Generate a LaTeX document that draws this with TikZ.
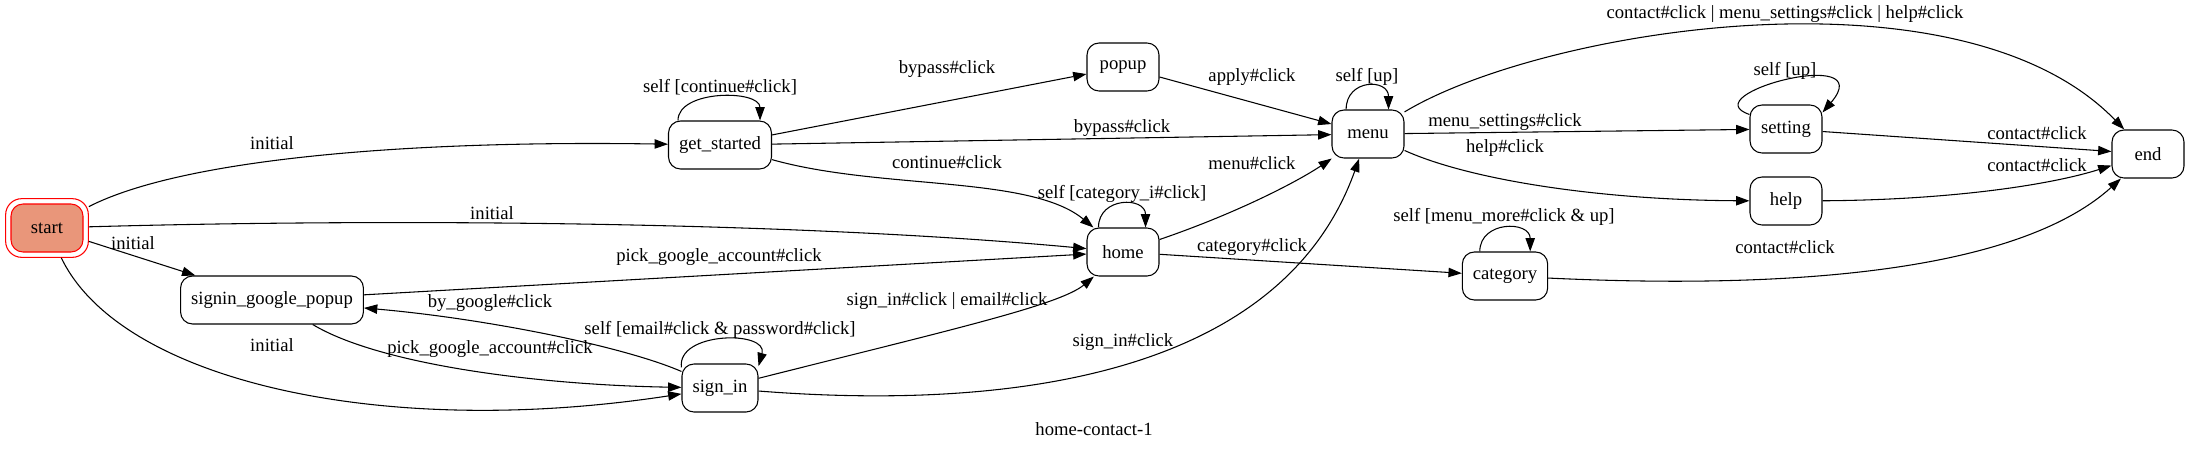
\documentclass[tikz,border=0pt]{standalone}
\usepackage{fontspec}
\setmainfont{Liberation Serif}
\usetikzlibrary{arrows.meta}
\definecolor{salmonfill}{HTML}{E9967A}
\begin{document}
\begin{tikzpicture}[x=0.75pt,y=-0.75pt,
  every node/.style={font=\fontsize{14pt}{16pt}\selectfont},
  st/.style={draw, rounded corners=9pt, minimum height=36pt, minimum width=54pt, inner xsep=7.9pt, inner ysep=0pt, line width=0.8pt},
  tr/.style={draw, line width=0.8pt, -{Triangle[length=10pt,width=7pt]}},
  lab/.style={inner sep=0pt}]
\useasboundingbox (0,0) rectangle (2189,450);

% nodes
\node[st, draw=red, rounded corners=12pt, minimum width=62pt, minimum height=44pt] (start) at (47,228) {};
\node[st, draw=red, fill=salmonfill] (startin) at (start.center) {start};
\node[st] (gs) at (720,145) {get\_started};
\node[st] (popup) at (1123,67) {popup};
\node[st] (menu) at (1368,134) {menu};
\node[st] (home) at (1123,252) {home};
\node[st] (sgp) at (272,300) {signin\_google\_popup};
\node[st] (si) at (720,388) {sign\_in};
\node[st] (cat) at (1505,276) {category};
\node[st] (set) at (1786,129) {setting};
\node[st] (help) at (1786,201) {help};
\node[st] (end) at (2148,154) {end};

% edges
\draw[tr] (start) .. controls (180,160) and (400,140) .. (gs);
\draw[tr] (start) .. controls (400,218) and (800,222) .. (home);
\draw[tr] (start) -- (sgp);
\draw[tr] (start) .. controls (120,380) and (380,440) .. (si);
\draw[tr] ([xshift=7.5pt]gs.north west) .. controls +(0,-31) and +(0,-31) .. ([xshift=-9pt]gs.north east);
\draw[tr] (gs) -- (popup);
\draw[tr] (gs) -- (menu);
\draw[tr] (gs) .. controls (880,190) and (1030,175) .. (home);
\draw[tr] (popup) -- (menu);
\draw[tr] ([xshift=11pt]menu.north west) .. controls +(0,-31) and +(0,-31) .. ([xshift=-12pt]menu.north east);
\draw[tr] (home) .. controls (1240,212) and (1300,180) .. (menu);
\draw[tr] ([xshift=9pt]home.north west) .. controls +(0,-31) and +(0,-31) .. ([xshift=-10.5pt]home.north east);
\draw[tr] (home) -- (cat);
\draw[tr] (sgp) -- (home);
\draw[tr] (sgp) .. controls (380,365) and (540,385) .. (si);
\draw[tr] (si) .. controls (620,345) and (480,318) .. (sgp);
\draw[tr] ([yshift=-3pt]si.north west) .. controls +(-5,-36) and +(10,-36) .. ([yshift=-2pt]si.north east);
\draw[tr] (si) .. controls (950,330) and (1060,305) .. (home);
\draw[tr] (si) .. controls (1000,410) and (1280,380) .. (menu);
\draw[tr] (menu) -- (set);
\draw[tr] (menu) .. controls (1470,180) and (1600,200) .. (help);
\draw[tr] (menu) .. controls (1540,30) and (1960,-40) .. (end);
\draw[tr] ([yshift=-7.5pt]set.north west) .. controls +(-59,-20) and +(58,-68) .. ([yshift=-6pt]set.north east);
\draw[tr] (set) -- (end);
\draw[tr] (help) .. controls (1950,200) and (2050,185) .. (end);
\draw[tr] (cat) .. controls (1800,290) and (2020,270) .. (end);
\draw[tr] ([xshift=13.5pt]cat.north west) .. controls +(0,-31) and +(0,-31) .. ([xshift=-13.5pt]cat.north east);

% labels
\node[lab] (l1) at (272,143) {initial};
\node[lab] (l2) at (492,213) {initial};
\node[lab] (l3) at (133,243) {initial};
\node[lab] (l4) at (272,345) {initial};
\node[lab] (l5) at (720,87) {self [continue\#click]};
\node[lab] (l6) at (947,69) {bypass\#click};
\node[lab] (l7) at (1122,128) {bypass\#click};
\node[lab] (l8) at (947,162) {continue\#click};
\node[lab] (l9) at (1252,77) {apply\#click};
\node[lab] (l10) at (1367,77) {self [up]};
\node[lab] (l11) at (1252,163) {menu\#click};
\node[lab] (l12) at (1122,194) {self [category\_i\#click]};
\node[lab] (l13) at (1252,247) {category\#click};
\node[lab] (l14) at (719,257) {pick\_google\_account\#click};
\node[lab] (l15) at (490,349) {pick\_google\_account\#click};
\node[lab] (l16) at (490,303) {by\_google\#click};
\node[lab] (l17) at (720,330) {self [email\#click \& password\#click]};
\node[lab] (l18) at (947,301) {sign\_in\#click | email\#click};
\node[lab] (l19) at (1123,342) {sign\_in\#click};
\node[lab] (l20) at (1505,122) {menu\_settings\#click};
\node[lab] (l21) at (1505,148) {help\#click};
\node[lab] (l22) at (1785,14) {contact\#click | menu\_settings\#click | help\#click};
\node[lab] (l23) at (1785,71) {self [up]};
\node[lab] (l24) at (2037,133) {contact\#click};
\node[lab] (l25) at (2037,165) {contact\#click};
\node[lab] (l26) at (1785,247) {contact\#click};
\node[lab] (l27) at (1504,217) {self [menu\_more\#click \& up]};
\node[lab] (title) at (1094,429) {home-contact-1};
\end{tikzpicture}
\end{document}
